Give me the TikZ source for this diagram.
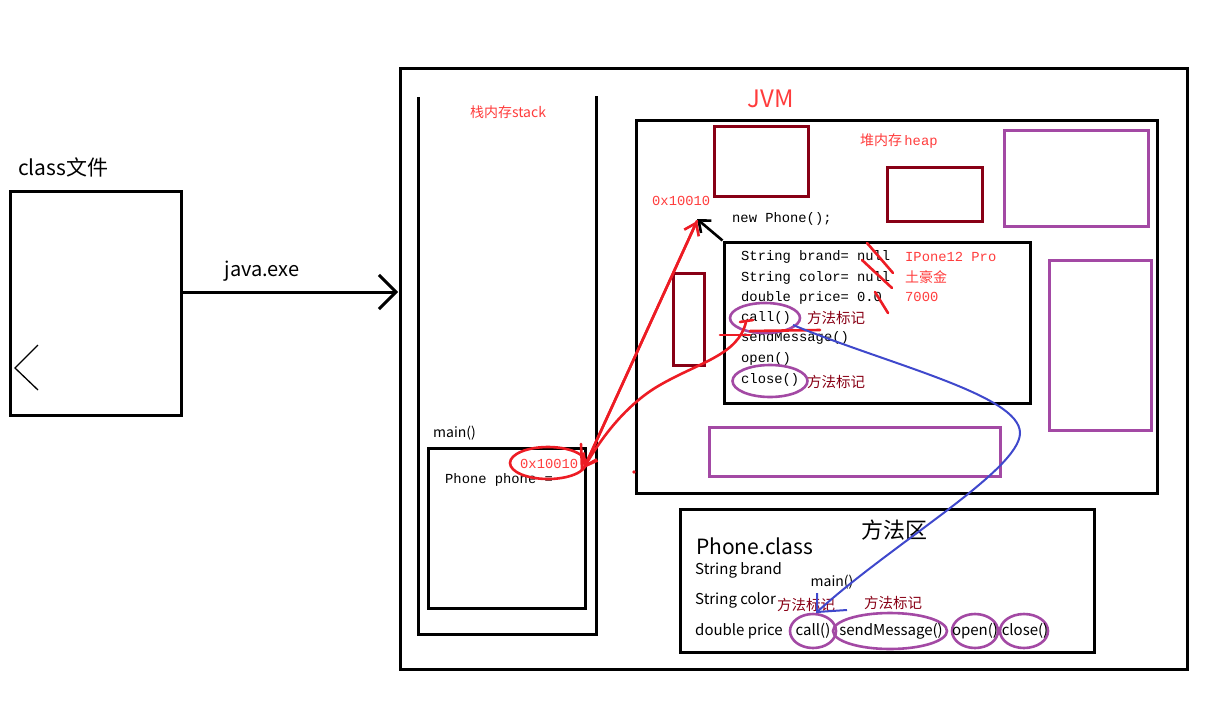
\documentclass[tikz,border=0pt]{standalone}
\usepackage{fontspec}
\setmainfont{Noto Sans CJK SC}
\newfontfamily\mono{Liberation Mono}
\newfontfamily\cjk{Noto Sans CJK SC}
\usetikzlibrary{arrows.meta,shapes.geometric}
\definecolor{jred}{HTML}{ED1C24}
\definecolor{lred}{HTML}{FF3C3C}
\definecolor{dred}{HTML}{880015}
\definecolor{jpurple}{HTML}{A349A4}
\definecolor{jblue}{HTML}{3F48CC}
\tikzset{
  bbox/.style={draw=black, line width=3pt, inner sep=0pt, rectangle},
  drbox/.style={draw=dred, line width=3pt, inner sep=0pt, rectangle},
  pubox/.style={draw=jpurple, line width=3pt, inner sep=0pt, rectangle},
  pell/.style={draw=jpurple, line width=2.6pt, ellipse, inner sep=0pt},
  rell/.style={draw=jred, line width=2.6pt, ellipse, inner sep=0pt},
  code/.style={font=\mono\fontsize{13.8}{15}\selectfont, text=black, anchor=west, inner sep=0pt},
  rcode/.style={font=\mono\fontsize{13.8}{15}\selectfont, text=lred, anchor=west, inner sep=0pt},
  stxt/.style={font=\fontsize{15}{17}\selectfont, text=black, anchor=west, inner sep=0pt},
  mtag/.style={font=\fontsize{14.5}{16}\selectfont, text=dred, anchor=west, inner sep=0pt},
  redline/.style={draw=jred, line width=2.6pt, line cap=round},
  rtip/.style={-{Straight Barb[length=11pt,width=16pt,line width=2.6pt]}},
}
\begin{document}
\begin{tikzpicture}[x=1pt,y=-1pt]
\useasboundingbox (0,0) rectangle (1215,709);

% class file
\node[bbox, minimum width=171pt, minimum height=224pt] (cls) at (95.5,303) {};
\node[font=\fontsize{21}{24}\selectfont, anchor=west, inner sep=0pt] (clst) at (18,167) {class文件};
\coordinate (lt1) at (38,345); \coordinate (lt2) at (15,368); \coordinate (lt3) at (38,390);
\draw[line width=1.3pt] (lt1) -- (lt2) -- (lt3);

% JVM outer
\node[bbox, minimum width=787pt, minimum height=600pt] (jvm) at (793.5,369) {};
\coordinate (jout) at (181,292);
\coordinate (jin) at (398,292);
\draw[line width=3pt, -{Straight Barb[length=17pt,width=34pt,line width=3pt]}] (jout) -- (jin);
\node[font=\fontsize{20}{24}\selectfont, anchor=south, inner sep=0pt] (jexe) at (262,282) {java.exe};
\node[font=\fontsize{24}{28}\selectfont, text=lred, inner sep=0pt] (jvmt) at (771,99) {JVM};

% stack
\coordinate (s1) at (418,97); \coordinate (s2) at (418,634); \coordinate (s3) at (596,634); \coordinate (s4) at (596,96);
\draw[line width=3pt] (s1) -- (s2) -- (s3) -- (s4);
\node[font=\fontsize{14}{16}\selectfont, text=lred, inner sep=0pt] (stk) at (508,112) {栈内存stack};
\node[font=\fontsize{14}{16}\selectfont, anchor=west, inner sep=0pt] (mainl) at (433,433) {main()};
\node[bbox, minimum width=157pt, minimum height=160pt] (mainf) at (506.5,528) {};
\node[code] (pp) at (445,480) {Phone phone =};
\node[rcode] (addr1) at (520,464) {0x10010};
\node[rell, minimum width=76pt, minimum height=32pt] (addre) at (548,463) {};

% heap
\node[bbox, minimum width=521pt, minimum height=373pt] (heap) at (896.5,306.5) {};
\node[anchor=west, inner sep=0pt, text=lred] (heapt) at (860,141) {{\cjk\fontsize{14}{16}\selectfont 堆内存} {\mono\fontsize{13.8}{15}\selectfont heap}};
\node[drbox, minimum width=94pt, minimum height=70pt] (dr1) at (761,161) {};
\node[drbox, minimum width=95pt, minimum height=54pt] (dr2) at (934.5,194) {};
\node[drbox, minimum width=31pt, minimum height=92pt] (dr3) at (688.5,319) {};
\node[pubox, minimum width=144pt, minimum height=96pt] (pu1) at (1076,178) {};
\node[pubox, minimum width=102pt, minimum height=170pt] (pu2) at (1100,345) {};
\node[pubox, minimum width=291pt, minimum height=49pt] (pu3) at (854.5,451.5) {};
\node[rcode] (addr2) at (652,201) {0x10010};
\node[code] (newp) at (732,219) {new Phone();};

% object
\node[bbox, minimum width=306pt, minimum height=161pt] (obj) at (877,322.5) {};
\node[code] (f1) at (741,257) {String brand= null};
\node[code] (f2) at (741,278) {String color= null};
\node[code] (f3) at (741,298) {double price= 0.0};
\node[code] (m1) at (741,318) {call()};
\node[code] (m2) at (741,338) {sendMessage()};
\node[code] (m3) at (741,359) {open()};
\node[code] (m4) at (741,380) {close()};
\node[rcode] (v1) at (905,257) {IPone12 Pro};
\node[anchor=west, inner sep=0pt, text=lred, font=\fontsize{14}{16}\selectfont] (v2) at (905,277) {土豪金};
\node[rcode] (v3) at (905,297) {7000};
\node[pell, minimum width=70pt, minimum height=30pt] (oc) at (765,318) {};
\node[pell, minimum width=75pt, minimum height=32pt] (ocl) at (770,381) {};
\node[mtag] (mk1) at (807,318) {方法标记};
\node[mtag] (mk2) at (807,382) {方法标记};
% strikes
\draw[redline] (867,243) -- (893,273);
\draw[redline] (862,260) -- (892,288);
\draw[redline] (875,292) -- (888,313);

% black arrow object -> address
\coordinate (objtip) at (697,219);
\draw[line width=2.6pt, -{Straight Barb[length=10pt,width=16pt,line width=2.6pt]}] (obj.north west) -- (objtip);

% red arrows
\coordinate (rtop) at (697,221);
\coordinate (rbot) at (584,468);
\draw[redline, rtip] (rbot) -- (rtop);
\draw[redline, rtip] (rtop) -- (rbot);
\coordinate (c0) at (746,322);
\draw[redline, rtip] (c0) .. controls (738,355) and (700,362) .. (660,385) .. controls (625,405) and (600,440) .. (rbot);
\draw[redline] (740,322) -- (753,320);
\draw[redline] (720,335) -- (750,335);
\draw[redline] (750,331) -- (820,330);
\draw[redline] (581,444) -- (582,470);
\fill[jred] (634,472) circle (1.8pt);

% method area
\node[bbox, minimum width=414pt, minimum height=143pt] (ma) at (887,580.5) {};
\node[font=\fontsize{22}{26}\selectfont, inner sep=0pt] (mat) at (894,530) {方法区};
\node[font=\fontsize{21}{24}\selectfont, anchor=west, inner sep=0pt] (pcls) at (696,546) {Phone.class};
\node[stxt] (sb) at (695,570) {String brand};
\node[stxt] (sc) at (695,600) {String color};
\node[stxt] (dp) at (695,631) {double price};
\node[font=\fontsize{14}{16}\selectfont, inner sep=0pt] (mm) at (832,582) {main()};
\node[mtag] (mk3) at (777,605) {方法标记};
\node[mtag] (mk4) at (864,603) {方法标记};
\node[pell, minimum width=46pt, minimum height=34pt] (pc1) at (813,631) {};
\node[pell, minimum width=114pt, minimum height=36pt] (pc2) at (890,631) {};
\node[pell, minimum width=46pt, minimum height=34pt] (pc3) at (975,631) {};
\node[pell, minimum width=48pt, minimum height=34pt] (pc4) at (1024,631) {};
\node[stxt, anchor=center] (t1) at (813,631) {call()};
\node[stxt, anchor=center] (t2) at (891,631) {sendMessage()};
\node[stxt, anchor=center] (t3) at (975,631) {open()};
\node[stxt, anchor=center] (t4) at (1025,631) {close()};

% blue connector
\coordinate (bs) at (793,325);
\coordinate (bm) at (1020,433);
\coordinate (be) at (817,612);
\draw[jblue, line width=2pt] (bs) .. controls (890,365) and (1020,395) .. (bm) .. controls (1020,470) and (890,545) .. (be);
\draw[jblue, line width=2pt] (817,593) -- (be) -- (847,610);
\end{tikzpicture}
\end{document}
